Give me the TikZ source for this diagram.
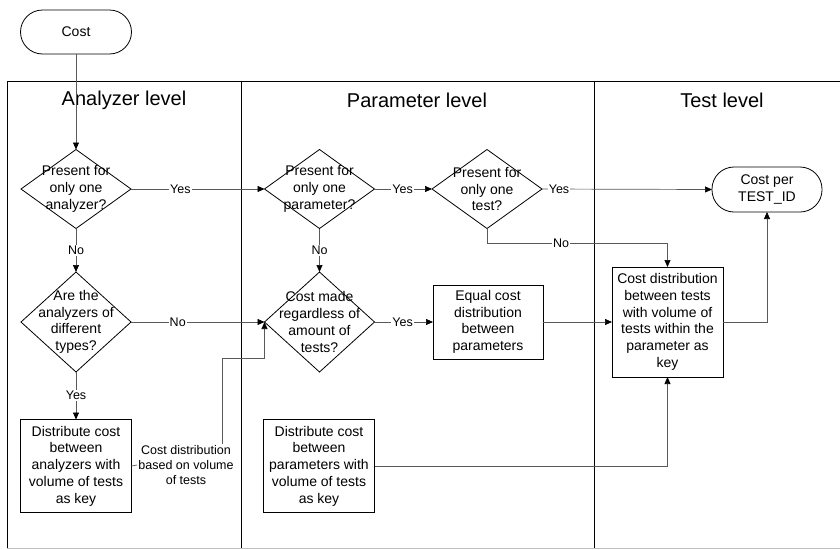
\documentclass[tikz,border=0pt]{standalone}
\usepackage{fontspec}
\setmainfont{Liberation Sans}
\usetikzlibrary{arrows.meta,shapes.geometric,calc}
\tikzset{
  shp/.style={draw=black,line width=0.8pt,inner sep=0pt,outer sep=0pt},
  dia/.style={shp,diamond,minimum width=110pt,minimum height=79pt},
  diabig/.style={dia,minimum height=100pt},
  boxn/.style={shp,rectangle,minimum width=111pt},
  term/.style={shp,rectangle,rounded corners=22pt,minimum width=111pt,minimum height=44pt},
  txt/.style={align=center,inner sep=0pt,font=\fontsize{14}{16.7}\selectfont},
  conn/.style={draw=black!65,line width=0.7pt},
  arr/.style={conn,-{Triangle[length=7pt,width=6pt,color=black]}},
  lab/.style={fill=white,inner sep=1pt,font=\fontsize{12.5}{15}\selectfont},
  lane/.style={draw=black,line width=1pt},
  title/.style={font=\fontsize{20}{24}\selectfont,inner sep=0pt}
}
\begin{document}
\begin{tikzpicture}[x=1pt,y=-1pt]
\useasboundingbox (0,0) rectangle (840,549);
% lanes
\draw[lane] (840,81) -- (7,81) -- (7,548);
\draw[draw=black!25,line width=0.8pt] (7,548) -- (840,548);
\draw[lane] (241,81) -- (241,548);
\draw[lane] (594,81) -- (594,548);
\node[title] (t1) at (124,100) {Analyzer level};
\node[title] (t2) at (417,100) {Parameter level};
\node[title] (t3) at (722,100) {Test level};
% shapes
\node[term] (cost) at (76,32) {};
\node[txt] at (cost) {Cost};
\node[dia] (d1) at (76,189) {};
\node[txt] at (d1) {Present for\\only one\\analyzer?};
\node[diabig] (d2) at (76,322) {};
\node[txt] at (d2) {Are the\\analyzers of\\different\\types?};
\node[boxn,minimum height=93pt] (b1) at (76,466) {};
\node[txt] at (b1) {Distribute cost\\between\\analyzers with\\volume of tests\\as key};
\node[dia] (d3) at (319.5,189) {};
\node[txt] at (d3) {Present for\\only one\\parameter?};
\node[diabig] (d4) at (319.5,322) {};
\node[txt] at (d4) {Cost made\\regardless of\\amount of\\tests?};
\node[boxn,minimum height=93pt] (b2) at (319,466) {};
\node[txt] at (b2) {Distribute cost\\between\\parameters with\\volume of tests\\as key};
\node[dia] (d5) at (487,189) {};
\node[txt] at (d5) {Present for\\only one\\test?};
\node[boxn,minimum width=110pt,minimum height=74pt] (eq) at (488,322) {};
\node[txt] at (eq) {Equal cost\\distribution\\between\\parameters};
\node[boxn,minimum height=110pt] (tb) at (667.5,322) {};
\node[txt] at (tb) {Cost distribution\\between tests\\with volume of\\tests within the\\parameter as\\key};
\node[term,minimum width=110pt,minimum height=45pt] (tp) at (767,189.5) {};
\node[txt] at (tp) {Cost per\\TEST\_ID};
% label node on connector
\node[lab,align=center] (cl) at (186,465) {Cost distribution\\based on volume\\of tests};
\coordinate (bend) at (222,358);
\coordinate (nt) at (0,243);
% connectors
\draw[arr] (cost.south) -- (d1.north);
\draw[arr] (d1.east) -- node[lab,pos=0.37]{Yes} (d3.west);
\draw[arr] (d1.south) -- node[lab,pos=0.5]{No} (d2.north);
\draw[arr] (d2.east) -- node[lab,pos=0.35]{No} (d4.west);
\draw[arr] (d2.south) -- node[lab,pos=0.5]{Yes} (b1.north);
\draw[conn] (b1.east) -- (cl.west);
\draw[arr] (cl.north -| bend) -- (bend) -| (d4.west);
\draw[arr] (d3.east) -- node[lab,pos=0.49]{Yes} (d5.west);
\draw[arr] (d3.south) -- node[lab,pos=0.5]{No} (d4.north);
\draw[arr] (d4.east) -- node[lab,pos=0.48]{Yes} (eq.west);
\draw[arr] (d5.east) -- node[lab,pos=0.1]{Yes} (tp.west);
\draw[arr] (d5.south) -- (d5.south |- nt) -- node[lab,pos=0.41]{No} (tb.north |- nt) -- (tb.north);
\draw[arr] (eq.east) -- (tb.west);
\draw[arr] (b2.east) -| (tb.south);
\draw[arr] (tb.east) -| (tp.south);
\end{tikzpicture}
\end{document}
